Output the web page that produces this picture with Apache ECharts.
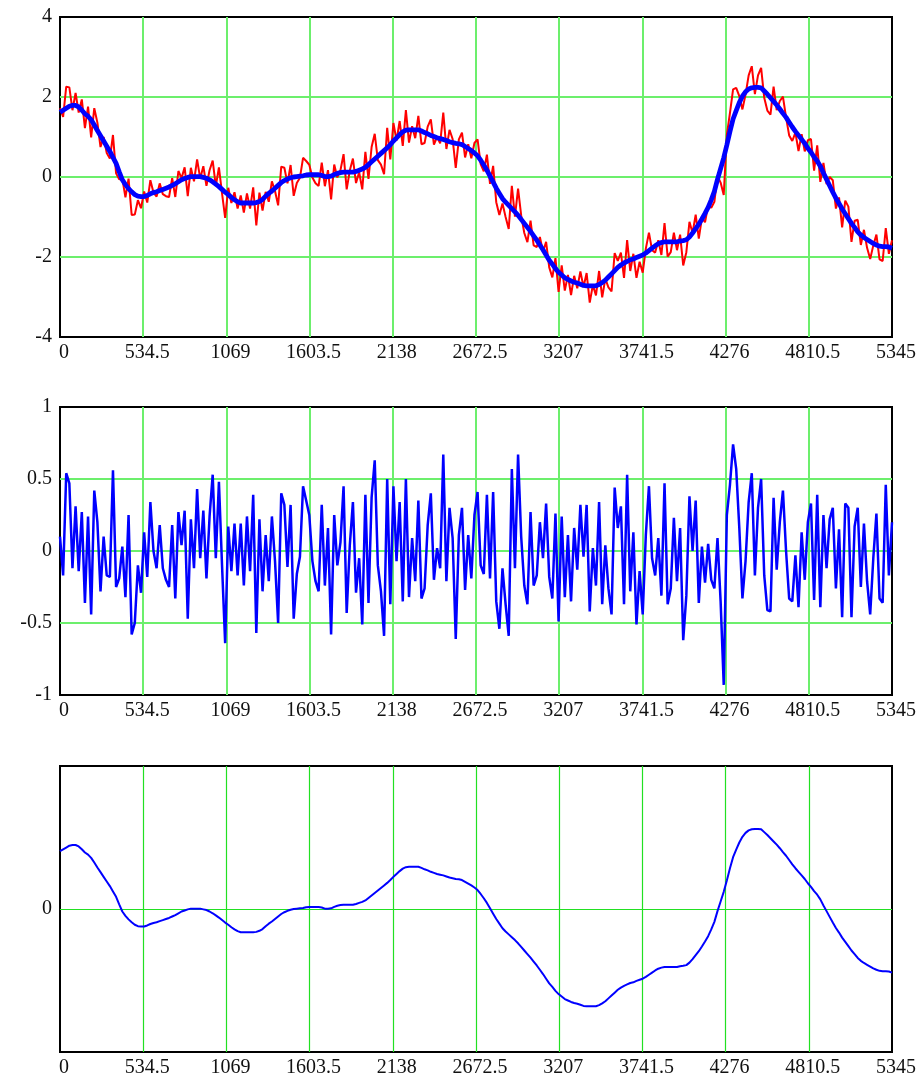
<!DOCTYPE html>
<html>
<head>
<meta charset="utf-8">
<script src="https://cdn.jsdelivr.net/npm/echarts@6/dist/echarts.min.js"></script>
<style>
html,body{margin:0;padding:0;background:#ffffff;}
#chart{width:919px;height:1080px;}
</style>
</head>
<body>
<div id="chart"></div>
<script>
// ---- data ----
const X_MAX = 5345;
const X_STEP = 5345 / 267;           // sample spacing of the series
const xTickValues = [0, 534.5, 1069, 1603.5, 2138, 2672.5, 3207, 3741.5, 4276, 4810.5, 5345];
const xTickLabels = ['0', '534.5', '1069', '1603.5', '2138', '2672.5', '3207', '3741.5', '4276', '4810.5', '5345'];
const y1TickValues = [-4, -2, 0, 2, 4];
const y1TickLabels = ['-4', '-2', '0', '2', '4'];
const y2TickValues = [-1, -0.5, 0, 0.5, 1];
const y2TickLabels = ['-1', '-0.5', '0', '0.5', '1'];
const y3TickValues = [0];
const y3TickLabels = ['0'];

// smoothed curve (blue, panels 1 and 3)
const smooth = [
  1.62, 1.67, 1.72, 1.77, 1.79, 1.79, 1.75, 1.67, 1.58, 1.52,
  1.43, 1.30, 1.16, 1.03, 0.90, 0.77, 0.64, 0.49, 0.34, 0.13,
  -0.07, -0.19, -0.29, -0.37, -0.44, -0.48, -0.49, -0.49, -0.46, -0.42,
  -0.39, -0.37, -0.34, -0.31, -0.28, -0.25, -0.21, -0.17, -0.12, -0.07,
  -0.04, -0.01, 0.01, 0.01, 0.01, 0.01, -0.01, -0.03, -0.07, -0.12,
  -0.18, -0.24, -0.31, -0.38, -0.44, -0.51, -0.57, -0.62, -0.65, -0.65,
  -0.65, -0.65, -0.65, -0.64, -0.61, -0.56, -0.48, -0.41, -0.35, -0.28,
  -0.21, -0.14, -0.09, -0.05, -0.02, 0.00, 0.01, 0.02, 0.03, 0.05,
  0.056, 0.056, 0.056, 0.056, 0.04, 0.01, 0.01, 0.02, 0.06, 0.09,
  0.11, 0.12, 0.12, 0.12, 0.12, 0.14, 0.17, 0.20, 0.24, 0.31,
  0.38, 0.45, 0.52, 0.59, 0.66, 0.73, 0.81, 0.90, 0.98, 1.06,
  1.13, 1.17, 1.18, 1.18, 1.18, 1.18, 1.15, 1.11, 1.08, 1.04,
  1.01, 0.98, 0.96, 0.94, 0.91, 0.88, 0.86, 0.84, 0.83, 0.81,
  0.76, 0.71, 0.66, 0.60, 0.53, 0.42, 0.30, 0.17, 0.02, -0.13,
  -0.28, -0.41, -0.54, -0.63, -0.71, -0.79, -0.87, -0.96, -1.06, -1.16,
  -1.26, -1.36, -1.47, -1.58, -1.70, -1.82, -1.95, -2.08, -2.18, -2.29,
  -2.38, -2.45, -2.52, -2.56, -2.60, -2.63, -2.65, -2.68, -2.71, -2.72,
  -2.72, -2.72, -2.72, -2.69, -2.64, -2.58, -2.50, -2.42, -2.34, -2.26,
  -2.20, -2.15, -2.11, -2.07, -2.05, -2.01, -1.98, -1.95, -1.90, -1.84,
  -1.78, -1.72, -1.67, -1.64, -1.62, -1.62, -1.62, -1.62, -1.62, -1.60,
  -1.59, -1.57, -1.50, -1.40, -1.29, -1.18, -1.05, -0.91, -0.76, -0.57,
  -0.36, -0.06, 0.21, 0.48, 0.80, 1.14, 1.45, 1.66, 1.86, 2.02,
  2.13, 2.20, 2.23, 2.24, 2.24, 2.23, 2.15, 2.07, 1.98, 1.89,
  1.80, 1.70, 1.59, 1.49, 1.37, 1.25, 1.14, 1.04, 0.94, 0.84,
  0.72, 0.62, 0.50, 0.40, 0.27, 0.10, -0.06, -0.22, -0.38, -0.53,
  -0.66, -0.80, -0.92, -1.04, -1.16, -1.26, -1.37, -1.45, -1.51, -1.56,
  -1.61, -1.66, -1.70, -1.73, -1.74, -1.74, -1.75, -1.78
];

// residual (panel 2) = noisy signal minus smooth curve
const residual = [
  0.10, -0.17, 0.54, 0.47, -0.12, 0.31, -0.14, 0.27, -0.36, 0.24,
  -0.44, 0.42, 0.20, -0.28, 0.10, -0.17, -0.18, 0.56, -0.25, -0.19,
  0.03, -0.32, 0.25, -0.58, -0.50, -0.10, -0.29, 0.13, -0.18, 0.34,
  0.00, -0.12, 0.18, -0.12, -0.20, -0.25, 0.18, -0.33, 0.27, 0.04,
  0.28, -0.47, 0.22, -0.12, 0.43, -0.05, 0.28, -0.19, 0.24, 0.53,
  -0.05, 0.48, -0.10, -0.64, 0.17, -0.14, 0.19, -0.17, 0.19, -0.24,
  0.24, -0.14, 0.39, -0.57, 0.22, -0.28, 0.11, -0.21,
  0.24, -0.07, -0.50, 0.40, 0.32, -0.11, 0.32, -0.47, -0.16, -0.04,
  0.45, 0.35, 0.25, -0.07, -0.21, -0.28, 0.32, -0.24, 0.16, -0.58,
  0.25, -0.10, 0.06, 0.45, -0.43, 0.04, 0.34, -0.29, -0.05, -0.51,
  0.39, -0.36, 0.37, 0.63, -0.10, -0.28, -0.59, 0.50, -0.37, 0.45,
  -0.07, 0.34, -0.35, 0.50, -0.32, 0.09, -0.21, 0.35, -0.33, -0.26,
  0.18, 0.40, -0.20, 0.02, -0.12, 0.67, -0.21, 0.30, 0.09, -0.61,
  0.11, 0.30, -0.27, 0.11, -0.19, 0.25, 0.41,
  -0.10, -0.16, 0.39, -0.19, 0.41, -0.35, -0.54, -0.12, -0.37, -0.59,
  0.57, -0.12, 0.67, 0.10, -0.24, -0.37, 0.27, -0.24, -0.17, 0.20,
  -0.05, 0.33, -0.18, -0.33, 0.26, -0.49, 0.24, -0.32, 0.11, -0.35,
  0.16, -0.13, 0.32, -0.04, 0.32, -0.42, 0.02, -0.24, 0.34, -0.37,
  0.04, -0.26, -0.44, 0.44, 0.16, 0.31, -0.37, 0.53, -0.28, 0.13,
  -0.51, -0.14, -0.44, 0.11, 0.45, -0.05, -0.17, 0.09, -0.31, 0.47,
  -0.37, -0.26, 0.23, -0.21, 0.16,
  -0.62, -0.31, 0.38, 0.00, 0.35, -0.36, 0.03, -0.22, 0.05, -0.20,
  -0.26, 0.09, -0.35, -0.93, 0.25, 0.46, 0.74, 0.57, 0.16, -0.33,
  -0.07, 0.34, 0.54, -0.17, 0.30, 0.50, -0.17, -0.41, -0.42, 0.37,
  -0.13, 0.20, 0.42, 0.00, -0.33, -0.35, -0.03, -0.39, 0.13, -0.20,
  0.20, 0.33, -0.34, 0.39, -0.39, 0.25, -0.12, 0.22, 0.30, -0.26,
  0.15, -0.46, 0.33, 0.30, -0.46, 0.17, 0.30, -0.25, 0.19, -0.21,
  -0.44, -0.05, 0.26, -0.33, -0.36, 0.46, -0.17, 0.20
];

// ---- build ----
const n = Math.min(smooth.length, residual.length);
const xs = [];
for (let i = 0; i < n; i++) xs.push(Math.min(i * X_STEP, X_MAX));
const smoothPts = xs.map((x, i) => [x, smooth[i]]);
const noisyPts = xs.map((x, i) => [x, +(smooth[i] + residual[i]).toFixed(3)]);
const residualPts = xs.map((x, i) => [x, residual[i]]);

const FONT = '"Liberation Serif","Times New Roman",Times,serif';
const labelBase = { fontFamily: FONT, fontSize: 20, color: '#111111' };

function lookup(values, labels) {
  return function (v) {
    for (let k = 0; k < values.length; k++) {
      if (Math.abs(values[k] - v) < 1e-6) return labels[k];
    }
    return '';
  };
}

function makeGrid(top, height) {
  return { left: 60, top: top, width: 832, height: height, show: true,
           borderColor: '#000000', borderWidth: 2, backgroundColor: 'transparent' };
}

function makeX(gi, gColor, gWidth) {
  return {
    type: 'value', gridIndex: gi, min: 0, max: X_MAX, interval: 534.5,
    axisLine: { show: false }, axisTick: { show: false },
    splitLine: { show: true, showMinLine: false, showMaxLine: false,
                 lineStyle: { color: gColor, width: gWidth } },
    axisLabel: Object.assign({}, labelBase, {
      margin: 6, padding: [0, 0, 0, 8], showMinLabel: true, showMaxLabel: true,
      formatter: lookup(xTickValues, xTickLabels)
    })
  };
}

function makeY(gi, min, max, interval, vals, labs, gColor, gWidth) {
  return {
    type: 'value', gridIndex: gi, min: min, max: max, interval: interval,
    axisLine: { show: false }, axisTick: { show: false },
    splitLine: { show: true, showMinLine: false, showMaxLine: false,
                 lineStyle: { color: gColor, width: gWidth } },
    axisLabel: Object.assign({}, labelBase, {
      margin: 8, showMinLabel: true, showMaxLabel: true,
      formatter: lookup(vals, labs)
    })
  };
}

const G12 = '#6cef6c';
const G3 = '#22e022';

const option = {
  animation: false,
  backgroundColor: '#ffffff',
  grid: [makeGrid(17, 320), makeGrid(407, 288), makeGrid(766, 286)],
  xAxis: [makeX(0, G12, 2), makeX(1, G12, 2), makeX(2, G3, 1.2)],
  yAxis: [
    makeY(0, -4, 4, 2, y1TickValues, y1TickLabels, G12, 2),
    makeY(1, -1, 1, 0.5, y2TickValues, y2TickLabels, G12, 2),
    makeY(2, -4, 4, 4, y3TickValues, y3TickLabels, G3, 1.2)
  ],
  series: [
    { type: 'line', xAxisIndex: 0, yAxisIndex: 0, data: noisyPts, showSymbol: false,
      lineStyle: { color: '#ff0000', width: 2 }, z: 2 },
    { type: 'line', xAxisIndex: 0, yAxisIndex: 0, data: smoothPts, showSymbol: false,
      lineStyle: { color: '#0000ff', width: 4.8 }, z: 3 },
    { type: 'line', xAxisIndex: 1, yAxisIndex: 1, data: residualPts, showSymbol: false,
      lineStyle: { color: '#0000ff', width: 2.5 }, z: 2 },
    { type: 'line', xAxisIndex: 2, yAxisIndex: 2, data: smoothPts, showSymbol: false,
      lineStyle: { color: '#0000ff', width: 2 }, z: 2 }
  ]
};

const chart = echarts.init(document.getElementById('chart'), null, { renderer: 'canvas' });
chart.setOption(option);
</script>
</body>
</html>
